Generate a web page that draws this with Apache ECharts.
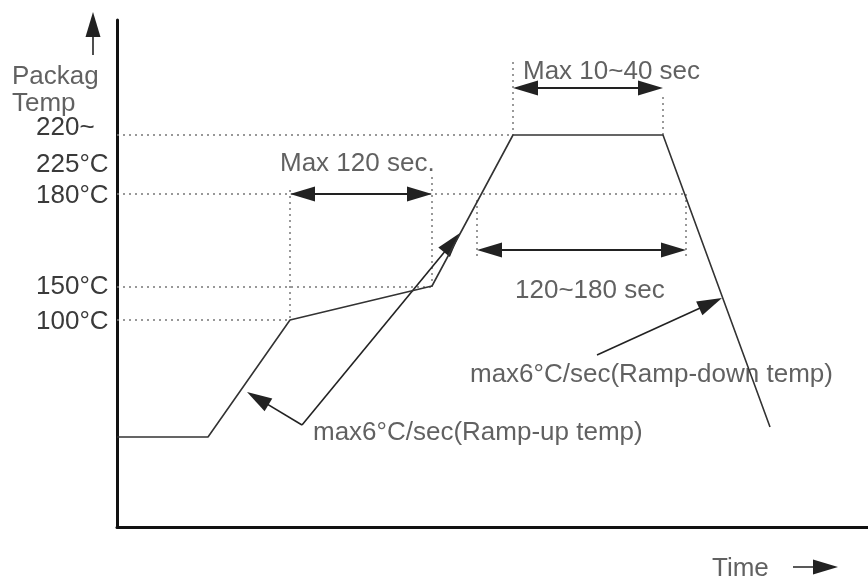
<!DOCTYPE html>
<html>
<head>
<meta charset="utf-8">
<script src="https://cdn.jsdelivr.net/npm/echarts@6/dist/echarts.min.js"></script>
<style>
  html, body { margin: 0; padding: 0; background: #fff; }
  #main { width: 868px; height: 581px; }
</style>
</head>
<body>
<div id="main"></div>
<script>
// schematic units: x = time from the axis, y = height above the time axis
const xMax = 751;
const yMax = 507;

// reflow profile
const profileX = [0, 91, 173, 315, 396, 546, 653];
const profileY = [90, 90, 207, 241, 392, 392, 100];

// temperature ticks
const yTickValues = [205, 240, 331, 362, 399];
const yTickLabels = ['100°C', '150°C', '180°C', '225°C', '220~'];

// dotted guides [x1, y1, x2, y2]
const guides = [
  [0, 392, 396, 392],
  [0, 333, 568, 333],
  [0, 240, 315, 240],
  [0, 207, 173, 207],
  [173, 337, 173, 207],
  [315, 350, 315, 240],
  [396, 465, 396, 392],
  [546, 430, 546, 392],
  [360, 327, 360, 270],
  [569, 333, 569, 270]
];

// double headed span arrows [x1, y1, x2, y2]
const spans = [
  [173, 333, 315, 333],
  [396, 439, 546, 439],
  [360, 277, 569, 277]
];

// single pointers [fromX, fromY, tipX, tipY]
const pointers = [
  [185, 102, 130, 135],
  [185, 102, 343, 294],
  [480, 172, 605, 229],
  [-24, 472, -24, 515],
  [676, -40, 721, -40]
];

// text labels
const noteTexts = ['Packag', 'Temp', 'Max 120 sec.', 'Max 10~40 sec', '120~180 sec',
  'max6°C/sec(Ramp-up temp)', 'max6°C/sec(Ramp-down temp)', 'Time'];
const noteX = [-105, -105, 163, 406, 398, 196, 353, 595];
const noteY = [450, 423, 363, 455, 236, 94, 152, -42];

const ARROW_LEN = 25;
// long narrow head; the stray moves keep the box square so it is not stretched
const arrowHead = 'path://M-12.5,0 M12.5,0 M0,0 L7.5,25 L-7.5,25 Z';

// pull an end back so the head's tip sits on the given point
function pullBack(x1, y1, x2, y2, d) {
  const len = Math.hypot(x2 - x1, y2 - y1);
  return [x2 - (x2 - x1) / len * d, y2 - (y2 - y1) / len * d];
}

const spanData = spans.map(s => {
  const a = pullBack(s[2], s[3], s[0], s[1], ARROW_LEN / 2);
  const b = pullBack(s[0], s[1], s[2], s[3], ARROW_LEN / 2);
  return { coords: [a, b] };
});

const pointerData = pointers.map(p => ({
  coords: [[p[0], p[1]], pullBack(p[0], p[1], p[2], p[3], ARROW_LEN / 2)]
}));

const chart = echarts.init(document.getElementById('main'), null, { renderer: 'canvas' });

const textColor = '#3a3a3a';
const fontFamily = '"Liberation Sans", Arial, sans-serif';

chart.setOption({
  animation: false,
  backgroundColor: '#fff',
  grid: { left: 117, right: 0, top: 20, bottom: 54 },
  xAxis: {
    type: 'value',
    min: 0,
    max: xMax,
    axisLine: { show: true, lineStyle: { color: '#111', width: 3 } },
    axisTick: { show: false },
    axisLabel: { show: false },
    splitLine: { show: false }
  },
  yAxis: {
    type: 'value',
    min: 0,
    max: yMax,
    axisLine: { show: true, lineStyle: { color: '#111', width: 3 } },
    axisTick: { show: false },
    splitLine: { show: false },
    axisLabel: {
      customValues: yTickValues,
      formatter: v => yTickLabels[yTickValues.indexOf(v)],
      align: 'left',
      margin: 81,
      color: textColor,
      fontSize: 26,
      fontFamily: fontFamily
    }
  },
  series: [
    {
      type: 'lines',
      coordinateSystem: 'cartesian2d',
      silent: true,
      symbol: 'none',
      lineStyle: { color: '#777', width: 1.5, type: [2, 4], opacity: 1 },
      data: guides.map(g => ({ coords: [[g[0], g[1]], [g[2], g[3]]] }))
    },
    {
      type: 'line',
      data: profileX.map((x, i) => [x, profileY[i]]),
      symbol: 'none',
      lineStyle: { color: '#333', width: 1.6 }
    },
    {
      type: 'lines',
      coordinateSystem: 'cartesian2d',
      silent: true,
      symbol: [arrowHead, arrowHead],
      symbolSize: ARROW_LEN,
      lineStyle: { color: '#222', width: 2, opacity: 1 },
      itemStyle: { color: '#111' },
      data: spanData
    },
    {
      type: 'lines',
      coordinateSystem: 'cartesian2d',
      silent: true,
      clip: false,
      symbol: ['none', arrowHead],
      symbolSize: ARROW_LEN,
      lineStyle: { color: '#222', width: 1.6, opacity: 1 },
      itemStyle: { color: '#111' },
      data: pointerData
    },
    {
      type: 'scatter',
      clip: false,
      silent: true,
      symbolSize: 0,
      data: noteTexts.map((t, i) => ({ name: t, value: [noteX[i], noteY[i]] })),
      label: {
        show: true,
        position: 'right',
        distance: 0,
        formatter: '{b}',
        color: textColor,
        fontSize: 26,
        fontFamily: fontFamily
      }
    }
  ]
});
</script>
</body>
</html>
